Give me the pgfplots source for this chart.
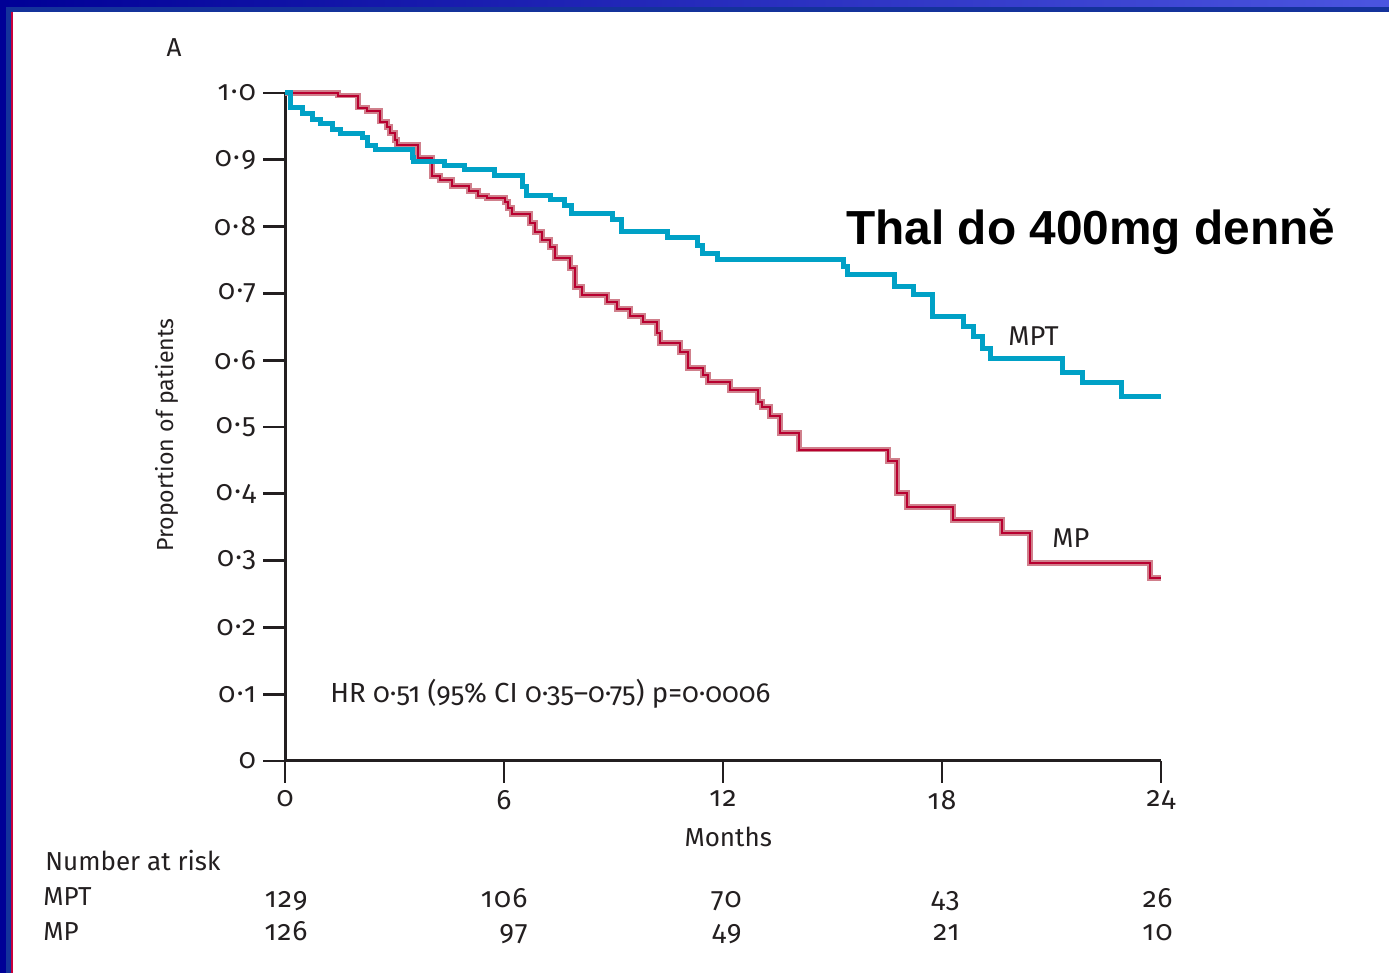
\documentclass[border=0pt]{standalone}
\usepackage{pgfplots}
\pgfplotsset{compat=1.18}
\usepackage{fontspec}
\setmainfont{Fira Sans}[Numbers=OldStyle]
\newfontfamily\numfont{Fira Sans}[Numbers=OldStyle,LetterSpace=5]
\newfontfamily\slidefont{Liberation Sans}
\newcommand\lf{\fontsize{13bp}{15bp}\selectfont}
\newcommand\nf{\numfont\fontsize{14bp}{16bp}\selectfont}

\definecolor{mptblue}{RGB}{0,161,198}
\definecolor{mpred}{RGB}{184,0,48}
\definecolor{mphalo}{RGB}{208,128,140}
\definecolor{txt}{RGB}{35,31,32}
\definecolor{navy}{RGB}{0,0,150}
\definecolor{navyb}{RGB}{20,50,155}
\definecolor{topright}{RGB}{75,85,224}
\definecolor{frame red}{RGB}{200,0,60}

\begin{document}
\begin{tikzpicture}[x=0.5bp,y=0.5bp]
% slide frame
\path[use as bounding box,fill=white] (0,0) rectangle (1389,973);
\shade[left color=navy,right color=topright] (0,973-7) rectangle (1389,973);
\fill[navyb] (0,973-12) rectangle (1389,973-7);
\fill[navy] (0,0) rectangle (6,973);
\fill[navyb] (6,0) rectangle (11,973-7);
\fill[frame red] (11,0) rectangle (13,973-12);

\begin{axis}[
  at={(142.5bp,106bp)}, anchor=south west,
  scale only axis, width=438bp, height=334bp,
  xmin=0, xmax=24, ymin=0, ymax=1,
  axis x line*=bottom, axis y line*=left,
  axis line style={line width=1.5bp,color=txt},
  tick align=outside, major tick length=11bp,
  tick style={line width=1.4bp,color=txt},
  xtick={0,6,12,18,24},
  xticklabels={0,6,12,18,24},
  ytick={0,0.1,0.2,0.3,0.4,0.5,0.6,0.7,0.8,0.9,1},
  yticklabels={0,0·1,0·2,0·3,0·4,0·5,0·6,0·7,0·8,0·9,1·0},
  ticklabel style={font=\nf,text=txt},
  xlabel={Months}, ylabel={Proportion of patients},
  label style={font=\lf,text=txt},
  xlabel style={at={(axis description cs:0.506,-0.114)},anchor=center},
  ylabel style={font=\fontsize{11.6bp}{14bp}\selectfont,at={(axis description cs:-0.135,0.488)},anchor=center},
  clip=false,
]
% MP: halo then core
\addplot[const plot mark left,color=mphalo,line width=2.8bp] coordinates {
(0,1.0) (1.45,0.996) (2.0,0.978) (2.25,0.973) (2.60,0.957) (2.79,0.949)
(2.88,0.940) (3.01,0.930) (3.07,0.922) (3.64,0.903) (4.03,0.876) (4.25,0.870)
(4.58,0.861) (5.04,0.853) (5.29,0.846) (5.53,0.843) (6.03,0.837) (6.11,0.828)
(6.22,0.819) (6.71,0.805) (6.85,0.792) (7.04,0.780) (7.26,0.769) (7.40,0.753)
(7.81,0.738) (7.95,0.710) (8.14,0.698) (8.82,0.687) (9.10,0.677) (9.45,0.666)
(9.81,0.657) (10.19,0.641) (10.27,0.626) (10.82,0.612) (11.04,0.588) (11.45,0.578)
(11.59,0.567) (12.19,0.555) (12.96,0.537) (13.07,0.530) (13.29,0.516) (13.56,0.491)
(14.08,0.466) (16.52,0.449) (16.77,0.401) (17.04,0.380) (18.30,0.361) (19.64,0.341)
(20.41,0.296) (23.70,0.274) (24.0,0.274)
};
\addplot[const plot mark left,color=mpred,line width=1.1bp] coordinates {
(0,1.0) (1.45,0.996) (2.0,0.978) (2.25,0.973) (2.60,0.957) (2.79,0.949)
(2.88,0.940) (3.01,0.930) (3.07,0.922) (3.64,0.903) (4.03,0.876) (4.25,0.870)
(4.58,0.861) (5.04,0.853) (5.29,0.846) (5.53,0.843) (6.03,0.837) (6.11,0.828)
(6.22,0.819) (6.71,0.805) (6.85,0.792) (7.04,0.780) (7.26,0.769) (7.40,0.753)
(7.81,0.738) (7.95,0.710) (8.14,0.698) (8.82,0.687) (9.10,0.677) (9.45,0.666)
(9.81,0.657) (10.19,0.641) (10.27,0.626) (10.82,0.612) (11.04,0.588) (11.45,0.578)
(11.59,0.567) (12.19,0.555) (12.96,0.537) (13.07,0.530) (13.29,0.516) (13.56,0.491)
(14.08,0.466) (16.52,0.449) (16.77,0.401) (17.04,0.380) (18.30,0.361) (19.64,0.341)
(20.41,0.296) (23.70,0.274) (24.0,0.274)
};
% MPT
\addplot[const plot mark left,color=mptblue,line width=2.5bp] coordinates {
(0,1.0) (0.15,0.978) (0.47,0.969) (0.74,0.961) (0.96,0.954) (1.29,0.945)
(1.51,0.940) (2.11,0.933) (2.25,0.921) (2.47,0.916) (3.48,0.904) (3.53,0.897)
(4.38,0.891) (4.93,0.885) (5.75,0.876) (6.50,0.860) (6.62,0.847) (7.26,0.840)
(7.67,0.832) (7.86,0.820) (8.96,0.811) (9.23,0.792) (10.47,0.783) (11.29,0.772)
(11.45,0.760) (11.86,0.751) (15.29,0.740) (15.42,0.728) (16.71,0.711) (17.21,0.699)
(17.75,0.666) (18.58,0.650) (18.85,0.635) (19.10,0.618) (19.34,0.603) (21.29,0.582)
(21.86,0.566) (22.93,0.546) (24.0,0.546)
};
\end{axis}

% texts
\node[anchor=base,font=\lf,text=txt,inner sep=0pt] at (174,973-57) {A};
\node[anchor=base west,font=\lf\fontsize{13.8bp}{16bp}\selectfont,text=txt,inner sep=0pt] at (330,973-702) {HR 0·51 (95\% CI 0·35–0·75) p=0·0006};
\node[anchor=base west,font=\fontsize{13.6bp}{16bp}\selectfont,text=txt,inner sep=0pt] at (1008,973-346) {MPT};
\node[anchor=base west,font=\fontsize{13.6bp}{16bp}\selectfont,text=txt,inner sep=0pt] at (1052,973-547) {MP};
\node[anchor=base west,font=\slidefont\bfseries\fontsize{23.9bp}{28bp}\selectfont,inner sep=0pt] at (846,973-245) {Thal do 400mg denně};

% number at risk
\node[anchor=base west,font=\lf,text=txt,inner sep=0pt] at (45,973-870) {Number at risk};
\node[anchor=base west,font=\lf,text=txt,inner sep=0pt] at (43,973-905) {MPT};
\node[anchor=base west,font=\lf,text=txt,inner sep=0pt] at (43,973-940) {MP};
\foreach \xx/\a/\b in {308/129/126, 528/106/97, 742/70/49, 960/43/21, 1173/26/10}{
  \node[anchor=base east,font=\nf,text=txt,inner sep=0pt] at (\xx,973-907) {\a};
  \node[anchor=base east,font=\nf,text=txt,inner sep=0pt] at (\xx,973-940) {\b};
}
\end{tikzpicture}
\end{document}
